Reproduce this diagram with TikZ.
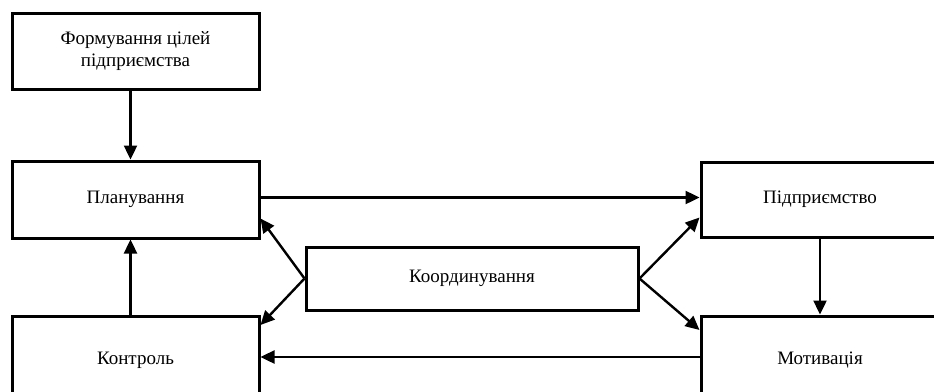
\documentclass[tikz,border=0pt]{standalone}
\usepackage{fontspec}
\setmainfont{Liberation Serif}
\usetikzlibrary{arrows.meta}
\begin{document}
\begin{tikzpicture}[x=1pt,y=-1pt,
  box/.style={draw=black,line width=3pt,fill=white,inner sep=0pt,align=center,
    font=\fontsize{19}{22}\selectfont},
  arr/.style={line width=2.4pt,-{Triangle[length=14pt,width=13pt]}}]
\useasboundingbox (0,0) rectangle (934,391);
\node[box,minimum width=247pt,minimum height=76pt] (goal) at (135.5,51) {Формування цілей\\підприємства};
\node[box,minimum width=247pt,minimum height=77pt] (plan) at (135.5,199.5) {Планування};
\node[box,minimum width=247pt,minimum height=88pt] (ctrl) at (135.5,360) {Контроль};
\node[box,minimum width=332pt,minimum height=63pt] (coord) at (472,278.5) {Координування};
\node[box,minimum width=238pt,minimum height=75pt] (firm) at (820,199.5) {Підприємство};
\node[box,minimum width=238pt,minimum height=88pt] (motiv) at (820,360) {Мотивація};
\draw[arr] ([xshift=-5pt]goal.south) -- ([xshift=-5pt]plan.north);
\draw[arr] ([xshift=-5pt]ctrl.north) -- ([xshift=-5pt]plan.south);
\draw[arr] ([yshift=2pt]plan.east) -- ([yshift=2pt]firm.west);
\draw[arr] (firm.south) -- (motiv.north);
\draw[arr] ([yshift=3pt]motiv.west) -- ([yshift=3pt]ctrl.east);
\draw[arr] (coord.west) -- ([yshift=-19pt]plan.east);
\draw[arr] (coord.west) -- ([yshift=35pt]ctrl.east);
\draw[arr] (coord.east) -- ([yshift=-18pt]firm.west);
\draw[arr] (coord.east) -- ([yshift=30pt]motiv.west);
\end{tikzpicture}
\end{document}
